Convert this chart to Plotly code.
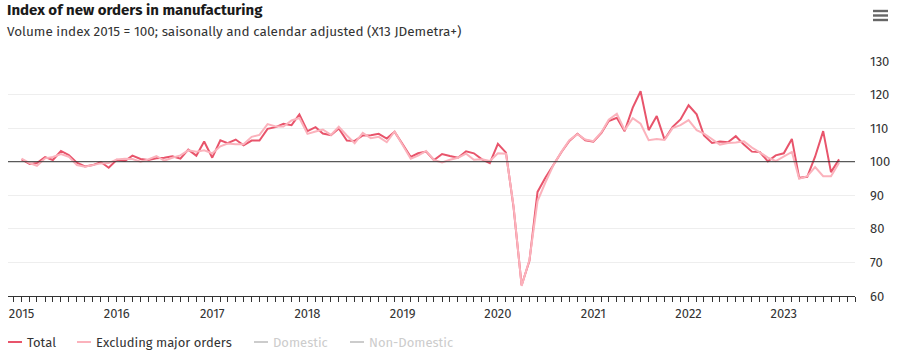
import plotly.graph_objects as go
import pandas as pd

months = pd.date_range("2015-01-01", "2023-08-01", freq="MS")

total = [100.7, 99.3, 99.6, 101.4, 100.5, 103.2, 102.0, 99.7, 98.6, 99.0, 99.9, 98.2,
         100.6, 100.2, 101.8, 100.8, 100.5, 101.0, 101.2, 101.6, 100.9, 103.6, 101.8, 106.0,
         101.2, 106.4, 105.5, 106.6, 104.9, 106.3, 106.3, 109.8, 110.3, 111.3, 110.9, 114.1,
         109.1, 110.3, 108.4, 107.9, 109.9, 106.3, 106.2, 107.8, 107.9, 108.3, 106.9, 108.9,
         105.2, 101.4, 102.5, 103.0, 100.5, 102.3, 101.7, 101.2, 103.1, 102.5, 100.7, 99.6,
         105.3, 102.7, 86.5, 63.2, 70.5, 91.0, 95.2, 99.2, 102.9, 106.2, 108.3, 106.4,
         106.0, 108.6, 112.1, 113.1, 109.1, 116.1, 121.0, 109.4, 113.6, 106.6, 110.4, 112.6,
         116.8, 114.1, 107.8, 105.6, 106.0, 105.8, 107.6, 105.1, 103.0, 102.9, 100.1, 101.9,
         102.5, 106.8, 95.2, 95.5, 101.5, 109.1, 96.9, 100.7]

excl_major = [100.9, 99.6, 98.8, 101.0, 101.4, 102.3, 101.5, 99.0, 98.5, 99.0, 99.5, 99.6,
              100.7, 100.9, 100.8, 100.0, 100.7, 101.7, 100.3, 101.2, 101.9, 103.4, 103.0, 103.4,
              102.5, 104.6, 105.4, 105.2, 105.2, 107.4, 108.0, 111.2, 110.5, 110.5, 112.3, 113.0,
              108.3, 109.0, 109.6, 108.0, 110.4, 107.8, 105.5, 108.6, 107.0, 107.4, 105.8, 109.0,
              105.0, 100.9, 101.8, 103.2, 100.5, 99.8, 100.6, 101.2, 102.4, 100.6, 100.7, 100.2,
              102.5, 102.4, 86.8, 63.0, 70.8, 88.3, 93.8, 99.0, 103.0, 106.4, 108.2, 106.6,
              106.1, 108.8, 112.5, 114.3, 109.4, 113.0, 111.3, 106.4, 106.8, 106.5, 110.0, 110.9,
              112.4, 109.4, 108.4, 106.8, 105.1, 105.6, 105.7, 106.1, 104.2, 102.8, 101.2, 100.2,
              101.5, 102.9, 94.9, 95.7, 98.4, 95.7, 95.7, 99.7]

series_names = ["Total", "Excluding major orders", "Domestic", "Non-Domestic"]
series_colors = ["#e8546b", "#fbb2bc", "#cccccc", "#cccccc"]
legend_text_colors = ["#333333", "#333333", "#cccccc", "#cccccc"]

y_ticks = [60, 70, 80, 90, 100, 110, 120, 130]
year_ticks = pd.date_range("2015-01-01", "2023-01-01", freq="YS")
year_labels = [str(d.year) for d in year_ticks]

FONT = "Fira Sans, Roboto, sans-serif"

fig = go.Figure()
fig.add_trace(go.Scatter(x=months, y=total, mode="lines", name=series_names[0],
                         line=dict(color=series_colors[0], width=2), showlegend=False))
fig.add_trace(go.Scatter(x=months, y=excl_major, mode="lines", name=series_names[1],
                         line=dict(color=series_colors[1], width=2), showlegend=False))

W, H = 913, 360
L, R, T, B = 8, 58, 61, 64
pw, ph = W - L - R, H - T - B


def px(x):
    return (x - L) / pw


def py(y):
    return (H - B - y) / ph


shapes = [dict(type="line", xref="paper", yref="y", x0=0, x1=1, y0=100, y1=100,
               line=dict(color="#333333", width=1))]
for yy in (11, 15.5, 20):
    shapes.append(dict(type="rect", xref="paper", yref="paper",
                       x0=px(873), x1=px(888), y0=py(yy - 1.2), y1=py(yy + 1.2),
                       fillcolor="#666666", line=dict(width=0)))

annotations = [
    dict(text="<b>Index of new orders in manufacturing</b>", xref="paper", yref="paper",
         x=px(5), y=py(10), xanchor="left", yanchor="middle", showarrow=False,
         font=dict(size=15, color="#1a1a1a", family=FONT)),
    dict(text="Volume index 2015 = 100; saisonally and calendar adjusted (X13 JDemetra+)",
         xref="paper", yref="paper", x=px(5), y=py(31), xanchor="left", yanchor="middle",
         showarrow=False, font=dict(size=13.5, color="#333333", family=FONT)),
]

legend_sym_x = [8, 77, 254, 350]
legend_y = 342
for name, col, tcol, sx in zip(series_names, series_colors, legend_text_colors, legend_sym_x):
    shapes.append(dict(type="line", xref="paper", yref="paper", x0=px(sx), x1=px(sx + 14),
                       y0=py(legend_y), y1=py(legend_y), line=dict(color=col, width=2)))
    annotations.append(dict(text=name, xref="paper", yref="paper", x=px(sx + 17), y=py(legend_y),
                            xanchor="left", yanchor="middle", showarrow=False,
                            font=dict(size=13, color=tcol, family=FONT)))

fig.update_layout(
    width=W, height=H,
    margin=dict(l=L, r=R, t=T, b=B, autoexpand=False),
    paper_bgcolor="white", plot_bgcolor="white",
    font=dict(family=FONT, size=13, color="#333333"),
    showlegend=False,
    shapes=shapes,
    annotations=annotations,
    xaxis=dict(range=["2014-11-10", "2023-10-01"], tickvals=year_ticks, ticktext=year_labels,
               ticks="outside", ticklen=5, tickcolor="#333333", showline=True,
               linecolor="#333333", linewidth=1, showgrid=False, zeroline=False,
               automargin=False, tickfont=dict(size=13, color="#333333"),
               minor=dict(dtick="M1", tick0="2015-01-01", ticks="outside", ticklen=5,
                          tickcolor="#333333", showgrid=False)),
    yaxis=dict(range=[60, 130], tickvals=y_ticks, side="right", showgrid=True,
               gridcolor="#eeeeee", gridwidth=1, zeroline=False, showline=False,
               automargin=False, ticklabelstandoff=14, tickfont=dict(size=13, color="#333333")),
)

fig.write_html("out.html", config={"displayModeBar": False},
               post_script="document.body.style.margin='0';")
